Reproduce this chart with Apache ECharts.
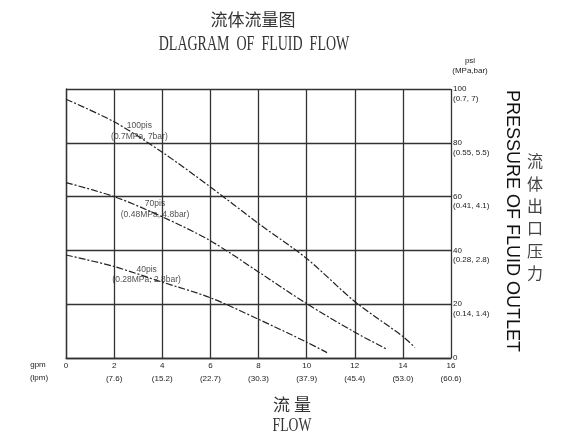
<!DOCTYPE html>
<html>
<head>
<meta charset="utf-8">
<script src="https://cdn.jsdelivr.net/npm/echarts@6/dist/echarts.min.js"></script>
<style>html,body{margin:0;padding:0;background:#fff;}#c{width:572px;height:437px;}</style>
</head>
<body>
<div id="c"></div>
<script>
// gpm ticks and lpm equivalents
const gpmTicks = [0, 2, 4, 6, 8, 10, 12, 14, 16];
const lpmLabels = ['', '(7.6)', '(15.2)', '(22.7)', '(30.3)', '(37.9)', '(45.4)', '(53.0)', '(60.6)'];
// psi ticks and (MPa, bar) equivalents
const psiTicks = [0, 20, 40, 60, 80, 100];
const psiSubLabels = ['', '(0.14, 1.4)', '(0.28, 2.8)', '(0.41, 4.1)', '(0.55, 5.5)', '(0.7, 7)'];

// curves: [gpm, psi]
const curve100 = [[0, 96.2], [2, 87.8], [4, 76.5], [6, 63.6], [8, 50], [10, 37], [12, 21], [14, 8], [14.5, 3.9]];
const curve70 = [[0, 65.2], [2, 60], [4, 52.5], [6, 43.6], [8, 32], [10, 20.2], [12, 9.6], [13.35, 3.2]];
const curve40 = [[0, 38.3], [2, 34], [4, 28.2], [6, 22.4], [8, 14.4], [10, 5.9], [10.85, 2]];

// curve annotations: position [gpm, psi] and text
const noteNames = ['100pis\n(0.7MPa, 7bar)', '70pis\n(0.48MPa, 4.8bar)', '40pis\n(0.28MPa, 2.8bar)'];
const notePos = [[3.05, 84.3], [3.7, 55.4], [3.35, 31]];

const chart = echarts.init(document.getElementById('c'), null, {renderer: 'canvas'});
const lineStyle = {color: '#222', width: 1.2, type: [7, 2, 2, 2]};
function curveSeries(d) {
  return {type: 'line', data: d, showSymbol: false, symbol: 'none', smooth: 0.3,
    lineStyle: lineStyle, silent: true, animation: false};
}
chart.setOption({
  backgroundColor: '#fff',
  animation: false,
  grid: {left: 66, right: 121, top: 89, bottom: 79},
  xAxis: {
    type: 'value', min: 0, max: 16, interval: 2,
    axisLine: {show: true, lineStyle: {color: '#333', width: 1.3}},
    axisTick: {show: false},
    splitLine: {show: true, lineStyle: {color: '#333', width: 1.3}},
    axisLabel: {
      margin: 1, fontSize: 8, lineHeight: 13, color: '#222', fontFamily: 'Liberation Sans',
      formatter: function (v) { const i = gpmTicks.indexOf(v); return v + '\n' + (i >= 0 ? lpmLabels[i] : ''); }
    }
  },
  yAxis: {
    type: 'value', position: 'right', min: 0, max: 100, interval: 20,
    axisLine: {show: true, lineStyle: {color: '#333', width: 1.3}},
    axisTick: {show: true, length: 2, inside: false, lineStyle: {color: '#333'}},
    splitLine: {show: true, lineStyle: {color: '#333', width: 1.3}},
    axisLabel: {
      margin: 2, fontSize: 8, lineHeight: 9.5, color: '#222', fontFamily: 'Liberation Sans', align: 'left',
      formatter: function (v) {
        const i = psiTicks.indexOf(v);
        if (v === 0) return '0';
        return '\n' + v + '\n' + (i >= 0 ? psiSubLabels[i] : '');
      }
    }
  },
  series: [
    curveSeries(curve100),
    curveSeries(curve70),
    curveSeries(curve40),
    {
      type: 'scatter', symbolSize: 0, silent: true,
      data: notePos.map(function (p, i) { return {value: p, name: noteNames[i]}; }),
      label: {show: true, position: 'inside', formatter: '{b}', fontSize: 8.5, lineHeight: 10.5,
        color: '#222', fontFamily: 'Liberation Sans', align: 'center', verticalAlign: 'middle'}
    }
  ],
  graphic: [
    {type: 'text', x: 253, y: 20, style: {text: '流体流量图', fontSize: 17, fontFamily: 'Noto Sans CJK SC', fill: '#333', align: 'center', verticalAlign: 'middle'}},
    {type: 'text', x: 254, y: 45, scaleX: 0.7, style: {text: 'DLAGRAM  OF  FLUID  FLOW', fontSize: 20, fontFamily: 'Liberation Serif', fill: '#333', align: 'center', verticalAlign: 'middle'}},
    {type: 'text', x: 470, y: 61, style: {text: 'psi', fontSize: 8, fontFamily: 'Liberation Sans', fill: '#222', align: 'center', verticalAlign: 'middle'}},
    {type: 'text', x: 470, y: 70.5, style: {text: '(MPa,bar)', fontSize: 8, fontFamily: 'Liberation Sans', fill: '#222', align: 'center', verticalAlign: 'middle'}},
    {type: 'text', x: 512, y: 221, rotation: -Math.PI / 2, style: {text: 'PRESSURE OF FLUID OUTLET', fontSize: 18, fontFamily: 'Liberation Sans', fill: '#111', align: 'center', verticalAlign: 'middle'}},
    {type: 'text', x: 535, y: 217, style: {text: '流\n体\n出\n口\n压\n力', fontSize: 16, lineHeight: 22.3, fontFamily: 'Noto Sans CJK SC', fill: '#444', align: 'center', verticalAlign: 'middle'}},
    {type: 'text', x: 38, y: 364.5, style: {text: 'gpm', fontSize: 8, fontFamily: 'Liberation Sans', fill: '#222', align: 'center', verticalAlign: 'middle'}},
    {type: 'text', x: 39, y: 378, style: {text: '(lpm)', fontSize: 8, fontFamily: 'Liberation Sans', fill: '#222', align: 'center', verticalAlign: 'middle'}},
    {type: 'text', x: 292, y: 405, style: {text: '流 量', fontSize: 17, fontFamily: 'Noto Sans CJK SC', fill: '#333', align: 'center', verticalAlign: 'middle'}},
    {type: 'text', x: 292, y: 426, scaleX: 0.72, style: {text: 'FLOW', fontSize: 19, fontFamily: 'Liberation Serif', fill: '#333', align: 'center', verticalAlign: 'middle'}}
  ]
});
</script>
</body>
</html>
